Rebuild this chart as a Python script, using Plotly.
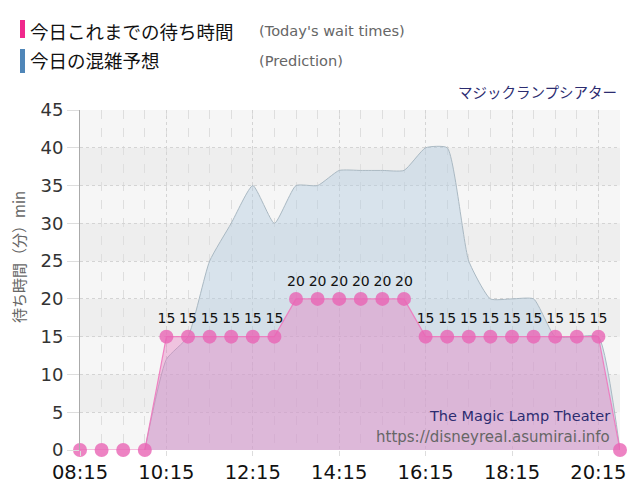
import plotly.graph_objects as go

# ---- data ----
actual_times = ["08:15", "08:45", "09:15", "09:45", "10:15", "10:45", "11:15", "11:45",
                "12:15", "12:45", "13:15", "13:45", "14:15", "14:45", "15:15", "15:45",
                "16:15", "16:45", "17:15", "17:45", "18:15", "18:45", "19:15", "19:45",
                "20:15", "20:45"]
actual_waits = [0, 0, 0, 0, 15, 15, 15, 15, 15, 15, 20, 20, 20, 20, 20, 20,
                15, 15, 15, 15, 15, 15, 15, 15, 15, 0]

pred_times = ["09:45", "10:15", "10:45", "11:15", "11:45", "12:15", "12:45", "13:15",
              "13:45", "14:15", "14:45", "15:15", "15:45", "16:15", "16:45", "17:15",
              "17:45", "18:15", "18:45", "19:15", "19:45", "20:15", "20:45"]
pred_waits = [0, 12, 15, 25, 30, 35, 30, 35, 35, 37, 37, 37, 37, 40, 40, 25,
              20, 20, 20, 15, 15, 15, 0]

x_ticks = ["08:15", "10:15", "12:15", "14:15", "16:15", "18:15", "20:15"]
y_ticks = [0, 5, 10, 15, 20, 25, 30, 35, 40, 45]

DAY = "2024-01-01 "
def dt(t):
    return DAY + t

JP = "Noto Sans CJK JP"
LAT = "DejaVu Sans"

fig = go.Figure()

fig.add_trace(go.Scatter(
    x=[dt(t) for t in pred_times], y=pred_waits,
    mode="lines", line=dict(color="rgba(170,185,195,1)", width=1, shape="spline", smoothing=0.5),
    fill="tozeroy", fillcolor="rgba(180,205,225,0.45)",
    hoverinfo="skip", showlegend=False,
))

labels = [str(v) if v > 0 else "" for v in actual_waits]
fig.add_trace(go.Scatter(
    x=[dt(t) for t in actual_times], y=actual_waits,
    mode="lines+markers+text",
    line=dict(color="rgba(240,120,190,0.9)", width=1.2),
    fill="tozeroy", fillcolor="rgba(230,120,190,0.4)",
    marker=dict(color="rgba(232,100,180,0.8)", size=14),
    text=labels, textposition="top center",
    textfont=dict(family=LAT, size=14, color="#111"),
    cliponaxis=False, showlegend=False,
))

# alternating bands
shapes = []
for lo in range(5, 45, 10):
    shapes.append(dict(type="rect", xref="paper", yref="y", x0=0, x1=1, y0=lo, y1=lo + 5,
                       fillcolor="#eeeeee", line=dict(width=0), layer="below"))

# helpers: window pixel -> paper coords (plot area spans x 80..620, y 110..450)
def px(xp):
    return (xp - 80) / 540
def py(yp):
    return (450 - yp) / 340

shapes.append(dict(type="rect", xref="paper", yref="paper", x0=px(20), x1=px(25), y0=py(38), y1=py(20),
                   fillcolor="#f0288c", line=dict(width=0)))
shapes.append(dict(type="rect", xref="paper", yref="paper", x0=px(20), x1=px(25), y0=py(73), y1=py(49),
                   fillcolor="#4f86b8", line=dict(width=0)))

ann = [
    dict(x=px(28), y=py(31), text="今日これまでの待ち時間", font=dict(family=JP, size=18.5, color="#111")),
    dict(x=px(28), y=py(60), text="今日の混雑予想", font=dict(family=JP, size=18.5, color="#111")),
    dict(x=px(257), y=py(31), text="(Today's wait times)", font=dict(family=LAT, size=14.6, color="#666")),
    dict(x=px(257), y=py(60), text="(Prediction)", font=dict(family=LAT, size=14.6, color="#666")),
]
for a in ann:
    a.update(xref="paper", yref="paper", xanchor="left", yanchor="middle", showarrow=False)

ann.append(dict(x=px(619), y=py(92), text="マジックランプシアター", xref="paper", yref="paper",
                xanchor="right", yanchor="middle", showarrow=False,
                font=dict(family=JP, size=14.5, color="#2c2c70")))
ann.append(dict(x=px(612), y=py(416), text="The Magic Lamp Theater", xref="paper", yref="paper",
                xanchor="right", yanchor="middle", showarrow=False,
                font=dict(family=LAT, size=14.5, color="#2c2c70")))
ann.append(dict(x=px(612), y=py(437), text="https://disneyreal.asumirai.info", xref="paper", yref="paper",
                xanchor="right", yanchor="middle", showarrow=False,
                font=dict(family=LAT, size=15, color="#666")))
ann.append(dict(x=px(18), y=py(257), text="待ち時間（分）min", xref="paper", yref="paper",
                xanchor="center", yanchor="middle", showarrow=False, textangle=-90,
                font=dict(family=JP, size=15, color="#666")))

# page body has an 8px margin, so the figure is 8px smaller and margins shifted by 8
fig.update_layout(
    width=632, height=492,
    margin=dict(l=72, r=20, t=102, b=50),
    paper_bgcolor="white", plot_bgcolor="#f6f6f6",
    shapes=shapes, annotations=ann,
    xaxis=dict(
        type="date", range=[dt("08:15"), dt("20:45")],
        tickvals=[dt(t) for t in x_ticks], ticktext=x_ticks,
        tickfont=dict(family=LAT, size=19.5, color="#111"),
        showgrid=True, gridcolor="#d4d4d4", griddash="dot", gridwidth=1,
        ticks="outside", ticklen=5, tickcolor="#dddddd",
        minor=dict(dtick=30 * 60 * 1000, tick0=dt("08:15"), showgrid=True,
                   gridcolor="#dedede", griddash="dash", gridwidth=1),
        showline=False, zeroline=False, fixedrange=True,
    ),
    yaxis=dict(
        range=[0, 45], tickvals=y_ticks,
        tickfont=dict(family=LAT, size=18, color="#333"),
        showgrid=True, gridcolor="#d4d4d4", griddash="dot", gridwidth=1,
        ticks="outside", ticklen=12, tickcolor="#dddddd",
        showline=True, linecolor="#aaaaaa", linewidth=1,
        zeroline=False,
    ),
)

fig.write_html("out.html")
